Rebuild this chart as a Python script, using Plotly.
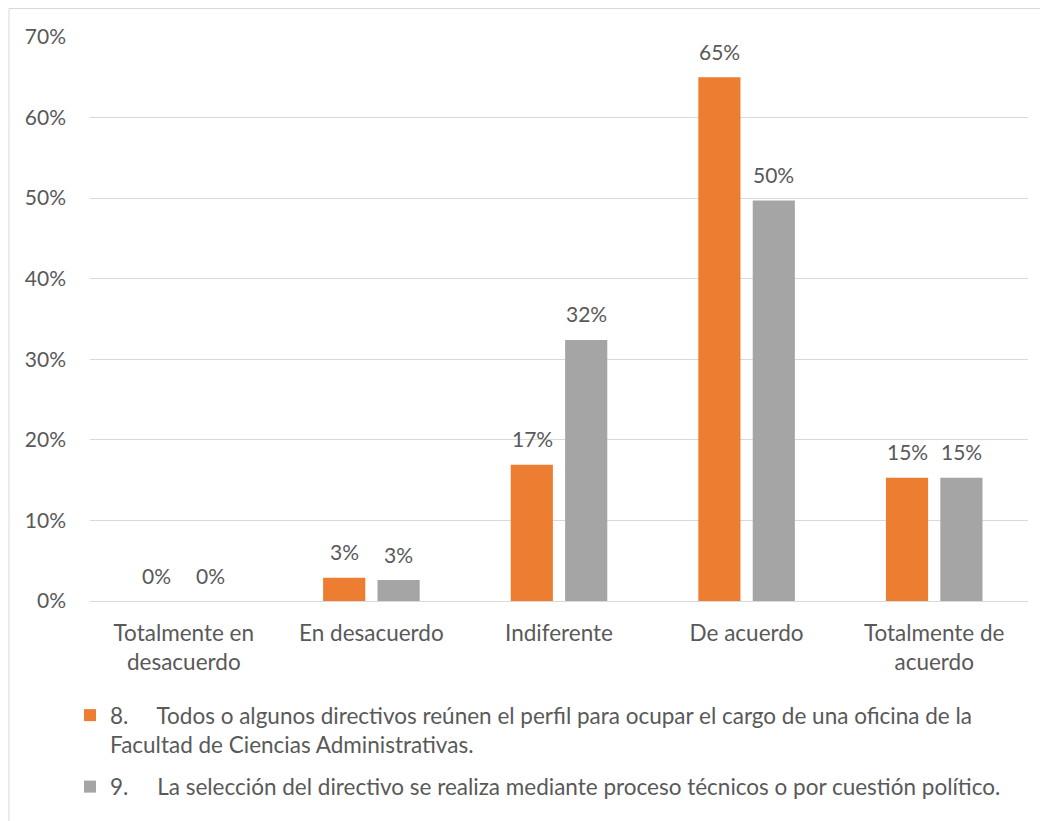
import plotly.graph_objects as go

categories = ["Totalmente en<br>desacuerdo", "En desacuerdo", "Indiferente", "De acuerdo", "Totalmente de<br>acuerdo"]
series8_name = ("8.&nbsp;&nbsp;&nbsp;&nbsp;&nbsp;Todos o algunos directivos reúnen el perfil para ocupar el cargo de una oficina de la"
                "<br>Facultad de Ciencias Administrativas.")
series9_name = "9.&nbsp;&nbsp;&nbsp;&nbsp;&nbsp;La selección del directivo se realiza mediante proceso técnicos o por cuestión político."
series8 = [0, 2.9, 16.9, 65.0, 15.3]
series9 = [0, 2.6, 32.4, 49.7, 15.3]
y_ticks = [0, 10, 20, 30, 40, 50, 60, 70]
y_ticktext = [f"{v}%" for v in y_ticks]

ORANGE = "#ED7D31"
GRAY = "#A5A5A5"
TEXT = "#595959"
GRID = "#D9D9D9"
FONT = "Lato"
FS = 22.5
FN = 21

fig = go.Figure()
fig.add_trace(go.Bar(x=categories, y=series8, name=series8_name, marker_color=ORANGE,
                     marker_line_width=0, legendgroup="a"))
fig.add_trace(go.Bar(x=categories, y=series9, name=series9_name, marker_color=GRAY,
                     marker_line_width=0, legendgroup="b"))

annotations = []
for vals, shift in ((series8, -27), (series9, 27)):
    for cat, v in zip(categories, vals):
        annotations.append(dict(x=cat, y=v, xref="x", yref="y", text=f"{v:.0f}%",
                                showarrow=False, xshift=shift, yshift=26, yanchor="middle",
                                font=dict(family=FONT, size=FN, color=TEXT)))

# the page body adds an 8px offset, so the figure is 8px smaller
W, H = 1040, 813
L, R, T, B = 82, 20, 29, 220
pw, ph = W - L - R, H - T - B

fig.update_layout(
    width=W, height=H, autosize=False,
    margin=dict(l=L, r=R, t=T, b=B, pad=0),
    paper_bgcolor="white", plot_bgcolor="white",
    font=dict(family=FONT, size=FS, color=TEXT),
    barmode="group", bargap=0.42, bargroupgap=0.225,
    showlegend=True,
    legend=dict(orientation="v", x=(62 - L) / pw, xanchor="left",
                yref="container", y=1 - 686 / H, yanchor="top", valign="top",
                font=dict(family=FONT, size=FS, color=TEXT),
                traceorder="grouped", tracegroupgap=10, itemwidth=30,
                bgcolor="rgba(0,0,0,0)"),
    xaxis=dict(showgrid=False, showline=True, linecolor=GRID, linewidth=1,
               ticks="", ticklabelstandoff=12, tickfont=dict(family=FONT, size=FS, color=TEXT)),
    yaxis=dict(range=[0, 70], tickvals=y_ticks, ticktext=y_ticktext, showgrid=True,
               gridcolor=GRID, gridwidth=1, zeroline=False, showline=False, ticks="",
               ticklabelstandoff=23, tickfont=dict(family=FONT, size=FN, color=TEXT)),
    annotations=annotations,
    shapes=[dict(type="rect", xref="paper", yref="paper",
                 x0=(1 - L) / pw, x1=(1060 - L) / pw,
                 y0=(H - B - 0.5) / ph, y1=(H - B - 840) / ph,
                 line=dict(color=GRID, width=1), fillcolor="rgba(0,0,0,0)", layer="below")],
)

fig.write_html("out.html")
